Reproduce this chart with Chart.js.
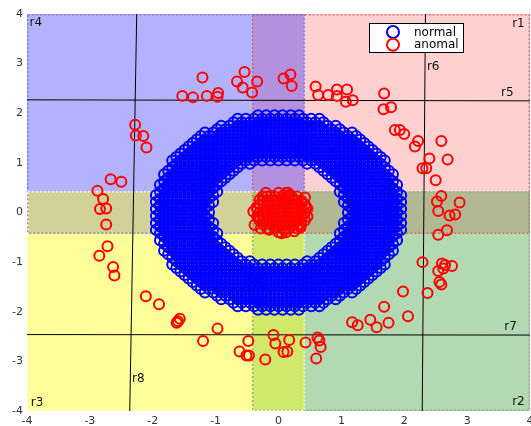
<!DOCTYPE html>
<html><head><meta charset="utf-8">
<script src="https://cdn.jsdelivr.net/npm/chart.js@4.4.1/dist/chart.umd.min.js"></script>
<style>html,body{margin:0;padding:0;background:#fff;}canvas{display:block;}</style>
</head><body>
<canvas id="c" width="531" height="426"></canvas>
<script>
// ---- data ----
const axisTicks = [-4,-3,-2,-1,0,1,2,3,4];
const seriesNames = ['normal','anomal'];
// "normal" ring: one row of x values per y value
const normalRowY = [1.96,1.89,1.82,1.75,1.68,1.61,1.54,1.47,1.40,1.33,1.26,1.19,1.12,1.05,0.98,0.91,0.84,0.77,0.70,0.63,0.56,0.49,0.42,0.35,0.28,0.21,0.14,0.07,0.00,-0.07,-0.14,-0.21,-0.28,-0.35,-0.42,-0.49,-0.56,-0.63,-0.70,-0.77,-0.84,-0.91,-0.98,-1.05,-1.12,-1.19,-1.26,-1.33,-1.40,-1.47,-1.54,-1.61,-1.68,-1.75,-1.82,-1.89,-1.96];
const normalRowX = [
[-0.325,-0.195,-0.065,0.065,0.195,0.325],
[-0.65,-0.52,-0.39,-0.26,-0.13,0,0.13,0.26,0.39,0.52,0.65],
[-0.715,-0.585,-0.455,-0.325,-0.195,-0.065,0.065,0.195,0.325,0.455,0.585,0.715],
[-0.91,-0.78,-0.65,-0.52,-0.39,-0.26,-0.13,0,0.13,0.26,0.39,0.52,0.65,0.78,0.91],
[-0.975,-0.845,-0.715,-0.585,-0.455,-0.325,-0.195,-0.065,0.065,0.195,0.325,0.455,0.585,0.715,0.845,0.975],
[-1.17,-1.04,-0.91,-0.78,-0.65,-0.52,-0.39,-0.26,-0.13,0,0.13,0.26,0.39,0.52,0.65,0.78,0.91,1.04,1.17],
[-1.235,-1.105,-0.975,-0.845,-0.715,-0.585,-0.455,-0.325,-0.195,-0.065,0.065,0.195,0.325,0.455,0.585,0.715,0.845,0.975,1.105,1.235],
[-1.3,-1.17,-1.04,-0.91,-0.78,-0.65,-0.52,-0.39,-0.26,-0.13,0,0.13,0.26,0.39,0.52,0.65,0.78,0.91,1.04,1.17,1.3],
[-1.365,-1.235,-1.105,-0.975,-0.845,-0.715,-0.585,-0.455,-0.325,-0.195,-0.065,0.065,0.195,0.325,0.455,0.585,0.715,0.845,0.975,1.105,1.235,1.365],
[-1.43,-1.3,-1.17,-1.04,-0.91,-0.78,-0.65,-0.52,-0.39,-0.26,-0.13,0,0.13,0.26,0.39,0.52,0.65,0.78,0.91,1.04,1.17,1.3,1.43],
[-1.495,-1.365,-1.235,-1.105,-0.975,-0.845,-0.715,-0.585,-0.455,-0.325,-0.195,-0.065,0.065,0.195,0.325,0.455,0.585,0.715,0.845,0.975,1.105,1.235,1.365,1.495],
[-1.56,-1.43,-1.3,-1.17,-1.04,-0.91,-0.78,-0.65,-0.52,-0.39,-0.26,-0.13,0,0.13,0.26,0.39,0.52,0.65,0.78,0.91,1.04,1.17,1.3,1.43,1.56],
[-1.625,-1.495,-1.365,-1.235,-1.105,-0.975,-0.845,-0.715,-0.585,-0.455,-0.325,-0.195,-0.065,0.065,0.195,0.325,0.455,0.585,0.715,0.845,0.975,1.105,1.235,1.365,1.495,1.625],
[-1.69,-1.56,-1.43,-1.3,-1.17,-1.04,-0.91,-0.78,-0.65,-0.52,-0.39,-0.26,-0.13,0,0.13,0.26,0.39,0.52,0.65,0.78,0.91,1.04,1.17,1.3,1.43,1.56,1.69],
[-1.625,-1.495,-1.365,-1.235,-1.105,-0.975,-0.845,-0.715,-0.585,-0.455,0.455,0.585,0.715,0.845,0.975,1.105,1.235,1.365,1.495,1.625],
[-1.69,-1.56,-1.43,-1.3,-1.17,-1.04,-0.91,-0.78,-0.65,0.65,0.78,0.91,1.04,1.17,1.3,1.43,1.56,1.69],
[-1.755,-1.625,-1.495,-1.365,-1.235,-1.105,-0.975,-0.845,-0.715,0.715,0.845,0.975,1.105,1.235,1.365,1.495,1.625,1.755],
[-1.82,-1.69,-1.56,-1.43,-1.3,-1.17,-1.04,-0.91,-0.78,0.78,0.91,1.04,1.17,1.3,1.43,1.56,1.69,1.82],
[-1.755,-1.625,-1.495,-1.365,-1.235,-1.105,-0.975,-0.845,0.845,0.975,1.105,1.235,1.365,1.495,1.625,1.755],
[-1.82,-1.69,-1.56,-1.43,-1.3,-1.17,-1.04,-0.91,0.91,1.04,1.17,1.3,1.43,1.56,1.69,1.82],
[-1.885,-1.755,-1.625,-1.495,-1.365,-1.235,-1.105,-0.975,0.975,1.105,1.235,1.365,1.495,1.625,1.755,1.885],
[-1.82,-1.69,-1.56,-1.43,-1.3,-1.17,-1.04,1.04,1.17,1.3,1.43,1.56,1.69,1.82],
[-1.885,-1.755,-1.625,-1.495,-1.365,-1.235,-1.105,-0.975,0.975,1.105,1.235,1.365,1.495,1.625,1.755,1.885],
[-1.95,-1.82,-1.69,-1.56,-1.43,-1.3,-1.17,-1.04,1.04,1.17,1.3,1.43,1.56,1.69,1.82,1.95],
[-1.885,-1.755,-1.625,-1.495,-1.365,-1.235,-1.105,1.105,1.235,1.365,1.495,1.625,1.755,1.885],
[-1.95,-1.82,-1.69,-1.56,-1.43,-1.3,-1.17,-1.04,1.04,1.17,1.3,1.43,1.56,1.69,1.82,1.95],
[-1.885,-1.755,-1.625,-1.495,-1.365,-1.235,-1.105,1.105,1.235,1.365,1.495,1.625,1.755,1.885],
[-1.95,-1.82,-1.69,-1.56,-1.43,-1.3,-1.17,1.17,1.3,1.43,1.56,1.69,1.82,1.95],
[-1.885,-1.755,-1.625,-1.495,-1.365,-1.235,-1.105,1.105,1.235,1.365,1.495,1.625,1.755,1.885],
[-1.95,-1.82,-1.69,-1.56,-1.43,-1.3,-1.17,1.17,1.3,1.43,1.56,1.69,1.82,1.95],
[-1.885,-1.755,-1.625,-1.495,-1.365,-1.235,-1.105,1.105,1.235,1.365,1.495,1.625,1.755,1.885],
[-1.95,-1.82,-1.69,-1.56,-1.43,-1.3,-1.17,-1.04,1.04,1.17,1.3,1.43,1.56,1.69,1.82,1.95],
[-1.885,-1.755,-1.625,-1.495,-1.365,-1.235,-1.105,1.105,1.235,1.365,1.495,1.625,1.755,1.885],
[-1.95,-1.82,-1.69,-1.56,-1.43,-1.3,-1.17,-1.04,1.04,1.17,1.3,1.43,1.56,1.69,1.82,1.95],
[-1.885,-1.755,-1.625,-1.495,-1.365,-1.235,-1.105,-0.975,0.975,1.105,1.235,1.365,1.495,1.625,1.755,1.885],
[-1.82,-1.69,-1.56,-1.43,-1.3,-1.17,-1.04,1.04,1.17,1.3,1.43,1.56,1.69,1.82],
[-1.885,-1.755,-1.625,-1.495,-1.365,-1.235,-1.105,-0.975,0.975,1.105,1.235,1.365,1.495,1.625,1.755,1.885],
[-1.82,-1.69,-1.56,-1.43,-1.3,-1.17,-1.04,-0.91,0.91,1.04,1.17,1.3,1.43,1.56,1.69,1.82],
[-1.755,-1.625,-1.495,-1.365,-1.235,-1.105,-0.975,-0.845,0.845,0.975,1.105,1.235,1.365,1.495,1.625,1.755],
[-1.82,-1.69,-1.56,-1.43,-1.3,-1.17,-1.04,-0.91,-0.78,0.78,0.91,1.04,1.17,1.3,1.43,1.56,1.69,1.82],
[-1.755,-1.625,-1.495,-1.365,-1.235,-1.105,-0.975,-0.845,-0.715,0.715,0.845,0.975,1.105,1.235,1.365,1.495,1.625,1.755],
[-1.69,-1.56,-1.43,-1.3,-1.17,-1.04,-0.91,-0.78,-0.65,0.65,0.78,0.91,1.04,1.17,1.3,1.43,1.56,1.69],
[-1.625,-1.495,-1.365,-1.235,-1.105,-0.975,-0.845,-0.715,-0.585,-0.455,0.455,0.585,0.715,0.845,0.975,1.105,1.235,1.365,1.495,1.625],
[-1.69,-1.56,-1.43,-1.3,-1.17,-1.04,-0.91,-0.78,-0.65,-0.52,-0.39,-0.26,-0.13,0,0.13,0.26,0.39,0.52,0.65,0.78,0.91,1.04,1.17,1.3,1.43,1.56,1.69],
[-1.625,-1.495,-1.365,-1.235,-1.105,-0.975,-0.845,-0.715,-0.585,-0.455,-0.325,-0.195,-0.065,0.065,0.195,0.325,0.455,0.585,0.715,0.845,0.975,1.105,1.235,1.365,1.495,1.625],
[-1.56,-1.43,-1.3,-1.17,-1.04,-0.91,-0.78,-0.65,-0.52,-0.39,-0.26,-0.13,0,0.13,0.26,0.39,0.52,0.65,0.78,0.91,1.04,1.17,1.3,1.43,1.56],
[-1.495,-1.365,-1.235,-1.105,-0.975,-0.845,-0.715,-0.585,-0.455,-0.325,-0.195,-0.065,0.065,0.195,0.325,0.455,0.585,0.715,0.845,0.975,1.105,1.235,1.365,1.495],
[-1.43,-1.3,-1.17,-1.04,-0.91,-0.78,-0.65,-0.52,-0.39,-0.26,-0.13,0,0.13,0.26,0.39,0.52,0.65,0.78,0.91,1.04,1.17,1.3,1.43],
[-1.365,-1.235,-1.105,-0.975,-0.845,-0.715,-0.585,-0.455,-0.325,-0.195,-0.065,0.065,0.195,0.325,0.455,0.585,0.715,0.845,0.975,1.105,1.235,1.365],
[-1.3,-1.17,-1.04,-0.91,-0.78,-0.65,-0.52,-0.39,-0.26,-0.13,0,0.13,0.26,0.39,0.52,0.65,0.78,0.91,1.04,1.17,1.3],
[-1.235,-1.105,-0.975,-0.845,-0.715,-0.585,-0.455,-0.325,-0.195,-0.065,0.065,0.195,0.325,0.455,0.585,0.715,0.845,0.975,1.105,1.235],
[-1.17,-1.04,-0.91,-0.78,-0.65,-0.52,-0.39,-0.26,-0.13,0,0.13,0.26,0.39,0.52,0.65,0.78,0.91,1.04,1.17],
[-0.975,-0.845,-0.715,-0.585,-0.455,-0.325,-0.195,-0.065,0.065,0.195,0.325,0.455,0.585,0.715,0.845,0.975],
[-0.91,-0.78,-0.65,-0.52,-0.39,-0.26,-0.13,0,0.13,0.26,0.39,0.52,0.65,0.78,0.91],
[-0.715,-0.585,-0.455,-0.325,-0.195,-0.065,0.065,0.195,0.325,0.455,0.585,0.715],
[-0.65,-0.52,-0.39,-0.26,-0.13,0,0.13,0.26,0.39,0.52,0.65],
[-0.325,-0.195,-0.065,0.065,0.195,0.325]
];
// "anomal" points scattered around the ring
const anomalOuterPts = [
[-1.21,2.72],[-0.54,2.83],[-0.66,2.64],[-0.57,2.52],[-0.42,2.42],[-0.34,2.64],[-1.53,2.35],[-1.36,2.32],[-1.14,2.35],[-0.96,2.41],[-0.97,2.33],
[-2.28,1.77],[-2.27,1.55],[-2.15,1.54],[-2.10,1.31],
[-2.67,0.67],[-2.50,0.62],[-2.88,0.44],[-2.79,0.27],[-2.84,0.07],[-2.74,0.08],[-2.74,-0.24],[-2.72,-0.68],[-2.85,-0.87],[-2.63,-1.10],[-2.61,-1.27],
[-2.11,-1.69],[-1.90,-1.85],[-1.57,-2.14],[-1.60,-2.19],[-1.62,-2.22],[-0.97,-2.34],[-1.20,-2.59],[-0.48,-2.59],[-0.62,-2.80],[-0.51,-2.88],[-0.47,-2.88],[-0.21,-2.96],
[-0.08,-2.47],[-0.05,-2.64],[0.17,-2.57],[0.08,-2.81],[0.14,-2.80],[0.43,-2.62],[0.62,-2.52],[0.65,-2.58],[0.67,-2.71],[0.60,-2.94],
[1.17,-2.21],[1.26,-2.27],[1.46,-2.16],[1.56,-2.31],[1.75,-2.22],[1.68,-1.90],[2.06,-2.09],[1.98,-1.59],[2.37,-1.62],[2.56,-1.40],[2.59,-1.45],
[2.29,-1.00],[2.60,-1.03],[2.65,-1.06],[2.76,-1.08],[2.54,-1.18],[2.62,-1.13],[2.54,-0.45],[2.68,-0.36],
[2.52,0.22],[2.88,0.20],[2.54,0.03],[2.72,-0.06],[2.81,-0.04],[2.59,0.33],[2.50,0.65],[2.29,0.89],[2.35,0.89],[2.40,1.09],[2.69,1.07],[2.59,1.44],[2.22,1.44],[2.17,1.33],[2.00,1.58],[1.93,1.66],[1.85,1.66],
[1.68,2.40],[1.67,2.08],[1.79,2.12],[1.18,2.26],[1.07,2.23],[1.09,2.48],[0.93,2.48],[0.93,2.35],[0.79,2.37],[0.63,2.37],[0.59,2.54],[0.08,2.70],[0.19,2.78],[0.21,2.55]
];
// "anomal" dense cluster in the centre
const anomalCorePts = [
[0.00,0.40],[0.12,0.40],
[-0.18,0.32],[-0.06,0.32],[0.06,0.32],[0.18,0.32],[0.30,0.32],
[-0.24,0.24],[-0.12,0.24],[0.00,0.24],[0.12,0.24],[0.24,0.24],[0.36,0.24],
[-0.30,0.16],[-0.18,0.16],[-0.06,0.16],[0.06,0.16],[0.18,0.16],[0.30,0.16],[0.42,0.16],
[-0.34,0.08],[-0.24,0.08],[-0.12,0.08],[0.00,0.08],[0.12,0.08],[0.24,0.08],[0.36,0.08],[0.46,0.08],
[-0.30,0.00],[-0.18,0.00],[-0.06,0.00],[0.06,0.00],[0.18,0.00],[0.30,0.00],[0.42,0.00],
[-0.34,-0.08],[-0.24,-0.08],[-0.12,-0.08],[0.00,-0.08],[0.12,-0.08],[0.24,-0.08],[0.36,-0.08],[0.46,-0.08],
[-0.30,-0.16],[-0.18,-0.16],[-0.06,-0.16],[0.06,-0.16],[0.18,-0.16],[0.30,-0.16],[0.42,-0.16],
[-0.24,-0.24],[-0.12,-0.24],[0.00,-0.24],[0.12,-0.24],[0.24,-0.24],[0.36,-0.24],
[-0.18,-0.32],[-0.06,-0.32],[0.06,-0.32],[0.18,-0.32],[0.30,-0.32],
[0.00,-0.40],[0.12,-0.40],
[0.10,0.25],[-0.15,0.20],[-0.22,0.02],[0.20,-0.25],[-0.05,-0.28],[-0.25,-0.18],[0.08,0.35],[-0.12,0.33],[0.22,0.30],[0.38,0.20],[0.40,-0.05],[0.32,-0.25],[0.10,-0.35],[-0.15,-0.35],[-0.32,-0.10],[-0.35,0.10],[-0.30,0.25],[0.15,0.40],[-0.38,-0.25],[0.25,-0.38],[0.42,0.30],[-0.20,0.40],[0.05,-0.42],[-0.28,-0.32],[-0.40,0.02],[0.44,0.10],[0.35,-0.30],[-0.25,0.32],[0.18,0.36]
];
// regions (drawn in this order)
const regionNames = ['r1','r2','r4','r3'];
const regionX0 = [-0.41, -0.41, -4, -4];
const regionX1 = [4, 4, 0.41, 0.41];
const regionY0 = [-0.42, -4, -0.42, -4];
const regionY1 = [4, 0.42, 4, 0.42];
// split lines
const splitNames = ['r5','r6','r7','r8'];
const splitX0 = [-4, 2.337, -4, -2.255];
const splitY0 = [2.27, 4, -2.46, 4];
const splitX1 = [4, 2.286, 4, -2.366];
const splitY1 = [2.25, -4, -2.47, -4];
// label anchor points (data units)
const labelNames = ['r1','r2','r3','r4','r5','r6','r7','r8'];
const labelX = [3.716, 3.716, -3.94, -3.96, 3.54, 2.36, 3.59, -2.33];
const labelY = [3.80, -3.82, -3.84, 3.82, 2.42, 2.93, -2.31, -3.36];

// ---- styles ----
const regionFill = {r1:'rgba(255,0,0,0.18)', r2:'rgba(0,128,0,0.30)', r4:'rgba(0,0,255,0.30)', r3:'rgba(255,255,0,0.40)'};
const regionEdge = {r1:'rgba(225,70,70,0.75)', r2:'rgba(120,170,120,0.8)', r4:'rgba(110,110,230,0.8)', r3:'rgba(255,255,210,0.9)'};
const FONT = '"DejaVu Sans", sans-serif';

const normalData = [];
normalRowY.forEach((y,i)=>normalRowX[i].forEach(x=>normalData.push({x, y})));
const anomalData = anomalOuterPts.concat(anomalCorePts).map(p=>({x:p[0], y:p[1]}));

const datasets = [
  {label:seriesNames[0], data:normalData, borderColor:'#0000ff', backgroundColor:'rgba(0,0,0,0)', pointRadius:5, borderWidth:2, pointBorderWidth:2, order:1},
  {label:seriesNames[1], data:anomalData, borderColor:'#ff0000', backgroundColor:'rgba(0,0,0,0)', pointRadius:5, borderWidth:2, pointBorderWidth:2, order:0}
];
splitNames.forEach((n,i)=>{
  datasets.push({label:n, data:[{x:splitX0[i],y:splitY0[i]},{x:splitX1[i],y:splitY1[i]}], showLine:true, pointRadius:0, borderColor:'#000', borderWidth:1, fill:false, order:2});
});

const regionPlugin = {
  id:'regions',
  beforeDatasetsDraw(chart){
    const {ctx, chartArea:a, scales:{x,y}} = chart;
    ctx.save();
    ctx.beginPath(); ctx.rect(a.left, a.top, a.right-a.left, a.bottom-a.top); ctx.clip();
    regionNames.forEach((n,i)=>{
      const l = x.getPixelForValue(regionX0[i]), r = x.getPixelForValue(regionX1[i]);
      const t = y.getPixelForValue(regionY1[i]), b = y.getPixelForValue(regionY0[i]);
      ctx.fillStyle = regionFill[n];
      ctx.fillRect(l, t, r-l, b-t);
    });
    regionNames.forEach((n,i)=>{
      const l = Math.max(x.getPixelForValue(regionX0[i]), a.left+0.75), r = Math.min(x.getPixelForValue(regionX1[i]), a.right-0.75);
      const t = Math.max(y.getPixelForValue(regionY1[i]), a.top+0.75), b = Math.min(y.getPixelForValue(regionY0[i]), a.bottom-0.75);
      ctx.strokeStyle = regionEdge[n];
      ctx.lineWidth = 1.5;
      ctx.setLineDash([2,2]);
      ctx.strokeRect(l, t, r-l, b-t);
    });
    ctx.restore();
  },
  afterDatasetsDraw(chart){
    const {ctx, scales:{x,y}} = chart;
    ctx.save();
    ctx.font = '12px ' + FONT;
    ctx.fillStyle = '#111';
    ctx.textAlign = 'left';
    ctx.textBaseline = 'middle';
    labelNames.forEach((n,i)=>{
      ctx.fillText(n, x.getPixelForValue(labelX[i]), y.getPixelForValue(labelY[i]));
    });
    ctx.restore();
  },
  afterDraw(chart){
    const {ctx, chartArea:a} = chart;
    ctx.save();
    const bx = Math.round(a.right - 161) + 0.5, by = Math.round(a.top + 9) + 0.5, bw = 94, bh = 29;
    ctx.fillStyle = '#fff';
    ctx.fillRect(bx, by, bw, bh);
    ctx.strokeStyle = '#000'; ctx.lineWidth = 1; ctx.setLineDash([]);
    ctx.strokeRect(bx, by, bw, bh);
    const cols = ['#0000ff','#ff0000'];
    ctx.font = '12px ' + FONT;
    ctx.textAlign = 'left'; ctx.textBaseline = 'middle';
    seriesNames.forEach((n,i)=>{
      const cy = by + 8.5 + i*12.8;
      ctx.beginPath(); ctx.arc(bx + 23.5, cy, 6, 0, Math.PI*2);
      ctx.strokeStyle = cols[i]; ctx.lineWidth = 2; ctx.stroke();
      ctx.fillStyle = '#000';
      ctx.fillText(n, bx + 44.5, cy + 0.5);
    });
    ctx.restore();
  }
};

function zeroPad(s){ s.paddingLeft = 0; s.paddingRight = 0; s.paddingTop = 0; s.paddingBottom = 0; }

new Chart(document.getElementById('c'), {
  type:'scatter',
  data:{datasets},
  options:{
    responsive:false, animation:false, events:[], devicePixelRatio:1,
    layout:{autoPadding:false, padding:{top:14, right:1, left:0, bottom:0}},
    plugins:{legend:{display:false}, tooltip:{enabled:false}},
    scales:{
      x:{type:'linear', min:-4, max:4,
         afterBuildTicks(s){ s.ticks = axisTicks.map(v=>({value:v})); },
         ticks:{font:{family:FONT, size:11}, color:'#333', padding:4, maxRotation:0, autoSkip:false},
         grid:{display:false, drawTicks:false}, border:{display:false},
         afterFit(s){ s.height = 15; zeroPad(s); }},
      y:{type:'linear', min:-4, max:4,
         afterBuildTicks(s){ s.ticks = axisTicks.map(v=>({value:v})); },
         ticks:{font:{family:FONT, size:11}, color:'#333', padding:4, autoSkip:false},
         grid:{display:false, drawTicks:false}, border:{display:false},
         afterFit(s){ s.width = 27; zeroPad(s); }}
    }
  },
  plugins:[regionPlugin]
});
</script>
</body></html>
